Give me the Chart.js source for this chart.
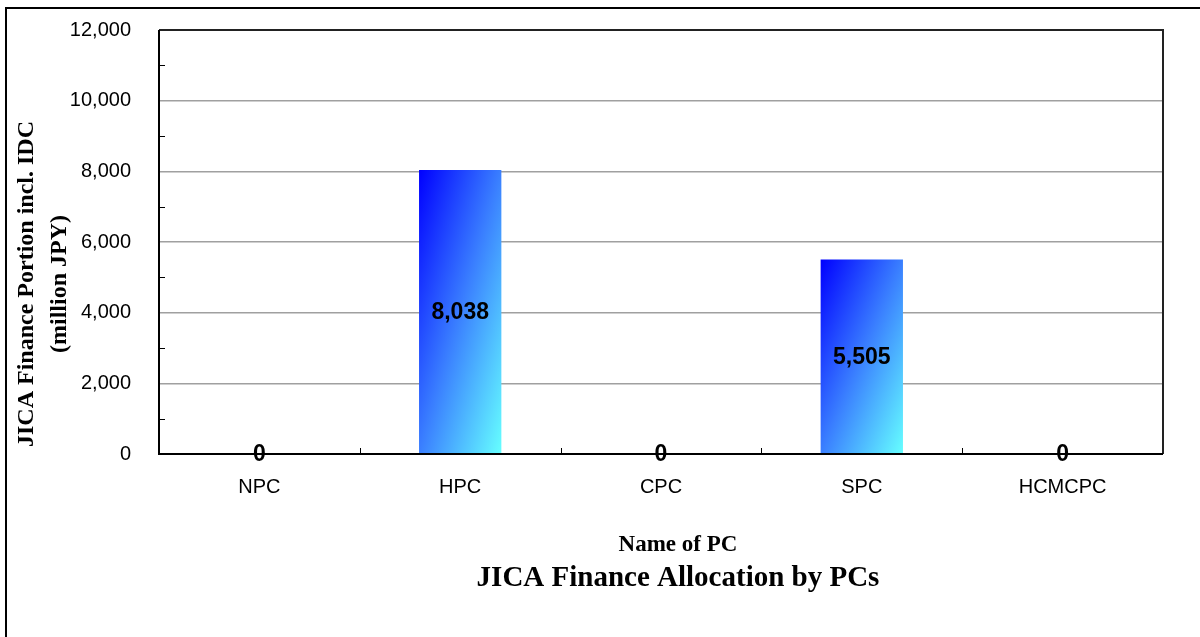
<!DOCTYPE html>
<html>
<head>
<meta charset="utf-8">
<script src="https://cdn.jsdelivr.net/npm/chart.js@4.4.1/dist/chart.umd.min.js"></script>
<style>
html,body{margin:0;padding:0;background:#fff;overflow:hidden}
#wrap{width:1200px;height:637px;position:relative}
</style>
</head>
<body>
<div id="wrap"><canvas id="c" width="1200" height="637"></canvas></div>
<script>
// ---- data ----
const categories = ['NPC', 'HPC', 'CPC', 'SPC', 'HCMCPC'];
const financeValues = [0, 8038, 0, 5505, 0];
const yTickValues = [0, 2000, 4000, 6000, 8000, 10000, 12000];
const yMinorTickValues = [1000, 3000, 5000, 7000, 9000, 11000];
const chartTitle = 'JICA Finance Allocation by PCs';
const xAxisTitle = 'Name of PC';
const yAxisTitleLines = ['JICA Finance Portion incl. IDC', '(million JPY)'];

// ---- style ----
const BAR_PCT = 0.41;
const SANS = '"Liberation Sans", Arial, sans-serif';
const SERIF = '"Liberation Serif", "Times New Roman", serif';
const fmt = v => Number(v).toLocaleString('en-US');

function barGradient(ctx) {
  const chart = ctx.chart;
  const ca = chart.chartArea;
  if (!ca || ctx.type !== 'data') return '#3380ff';
  const xs = chart.scales.x, ys = chart.scales.y;
  const cx = xs.getPixelForValue(ctx.dataIndex);
  const w = (ca.right - ca.left) / categories.length * BAR_PCT;
  const top = ys.getPixelForValue(ctx.raw);
  const base = ys.getPixelForValue(0);
  const h = Math.max(base - top, 1);
  const cy = (top + base) / 2;
  // diagonal gradient: top-left corner -> bottom-right corner, isolines parallel to the anti-diagonal
  const k = (w * h) / (w * w + h * h);
  const dx = h * k, dy = w * k;
  const g = chart.ctx.createLinearGradient(cx - dx, cy - dy, cx + dx, cy + dy);
  g.addColorStop(0, '#0000ff');
  g.addColorStop(0.5, '#3a7fff');
  g.addColorStop(1, '#66ffff');
  return g;
}

const decor = {
  id: 'decor',
  beforeDraw(chart) {
    const c = chart.ctx;
    c.save();
    c.fillStyle = '#fff';
    c.fillRect(0, 0, chart.width, chart.height);
    c.fillStyle = '#000';
    c.fillRect(5, 7, chart.width - 5, 2);
    c.fillRect(5, 7, 2, chart.height - 7);
    c.restore();
  },
  afterDraw(chart) {
    const c = chart.ctx;
    const ca = chart.chartArea;
    const xs = chart.scales.x, ys = chart.scales.y;
    c.save();
    // plot frame
    c.strokeStyle = '#222';
    c.lineWidth = 2;
    c.beginPath();
    c.moveTo(ca.left, ca.top); c.lineTo(ca.right, ca.top); c.lineTo(ca.right, ca.bottom);
    c.stroke();
    c.strokeStyle = '#000';
    c.beginPath();
    c.moveTo(ca.left, ca.top); c.lineTo(ca.left, ca.bottom); c.lineTo(ca.right, ca.bottom);
    c.stroke();
    // inward minor ticks on y axis
    c.lineWidth = 1;
    yMinorTickValues.forEach(v => {
      const py = Math.round(ys.getPixelForValue(v)) + 0.5;
      c.beginPath(); c.moveTo(ca.left, py); c.lineTo(ca.left + 6, py); c.stroke();
    });
    // inward category-boundary ticks on x axis
    for (let i = 1; i < categories.length; i++) {
      const px = Math.round((xs.getPixelForValue(i - 1) + xs.getPixelForValue(i)) / 2) + 0.5;
      c.beginPath(); c.moveTo(px, ca.bottom); c.lineTo(px, ca.bottom - 6); c.stroke();
    }
    // value labels
    const meta = chart.getDatasetMeta(0);
    c.fillStyle = '#000';
    c.font = 'bold 23px ' + SANS;
    c.textAlign = 'center';
    c.textBaseline = 'middle';
    meta.data.forEach((el, i) => {
      const midY = (el.y + el.base) / 2;
      c.fillText(fmt(financeValues[i]), el.x, midY + 1);
    });
    // y axis title
    c.font = 'bold 24px ' + SERIF;
    c.textBaseline = 'alphabetic';
    const titleCy = 284;
    [33, 66].forEach((bx, i) => {
      c.save();
      c.translate(bx, titleCy);
      c.rotate(-Math.PI / 2);
      c.fillText(yAxisTitleLines[i], 0, 0);
      c.restore();
    });
    // x axis title
    c.font = 'bold 23px ' + SERIF;
    c.fillText(xAxisTitle, 678, 551);
    // chart title
    c.font = 'bold 29px ' + SERIF;
    c.fillText(chartTitle, 678, 586);
    c.restore();
  }
};

new Chart(document.getElementById('c'), {
  type: 'bar',
  data: {
    labels: categories,
    datasets: [{
      data: financeValues,
      backgroundColor: barGradient,
      borderWidth: 0,
      barPercentage: BAR_PCT,
      categoryPercentage: 1
    }]
  },
  options: {
    responsive: false,
    animation: false,
    devicePixelRatio: 1,
    layout: { padding: { left: 0, right: 37, top: 30, bottom: 0 } },
    plugins: { legend: { display: false }, tooltip: { enabled: false }, title: { display: false } },
    scales: {
      x: {
        offset: true,
        grid: { display: false, drawTicks: false },
        border: { display: false },
        ticks: { color: '#000', font: { family: SANS, size: 20 }, padding: 21, maxRotation: 0 },
        afterFit(scale) { scale.height = 183; }
      },
      y: {
        min: 0, max: 12000,
        afterBuildTicks(scale) { scale.ticks = yTickValues.map(v => ({ value: v })); },
        grid: { color: '#a0a0a0', lineWidth: 1.5, drawTicks: false },
        border: { display: false },
        ticks: { color: '#000', font: { family: SANS, size: 20 }, padding: 28, callback: v => fmt(v) },
        afterFit(scale) { scale.width = 159; scale.paddingTop = 0; scale.paddingBottom = 0; }
      }
    }
  },
  plugins: [decor]
});
</script>
</body>
</html>
